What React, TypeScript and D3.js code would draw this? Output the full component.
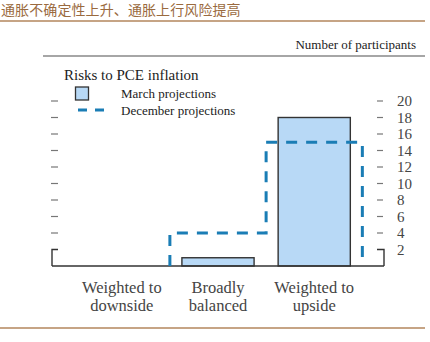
import React from "react";
import * as d3 from "d3";

const categories = ["Weighted to downside", "Broadly balanced", "Weighted to upside"];
const categoryLines = [["Weighted to", "downside"], ["Broadly", "balanced"], ["Weighted to", "upside"]];
const marchValues = [0, 1, 18];
const decemberValues = [0, 4, 15];
const tickValues = [2, 4, 6, 8, 10, 12, 14, 16, 18, 20];
const title = "通胀不确定性上升、通胀上行风险提高";

const W = 430;
const H = 342;
const serif = "'Liberation Serif', 'Times New Roman', serif";

export default function App() {
  const x0 = 52;
  const x1 = 384;
  const y = d3.scaleLinear().domain([0, 20]).range([266, 101]);
  const x = d3
    .scaleBand<string>()
    .domain(categories)
    .range([x0, x1])
    .paddingInner(0.25)
    .paddingOuter(0.35);
  const step = x.step();
  const bw = x.bandwidth();

  const edge = (i: number) => (x(categories[i]) as number) + bw / 2 - step / 2;
  let d = "";
  let started = false;
  decemberValues.forEach((v, i) => {
    const l = edge(i);
    const r = l + step;
    if (v <= 0) return;
    if (!started) {
      d += `M${l},${y(0)}L${l},${y(v)}`;
      started = true;
    } else {
      d += `L${l},${y(v)}`;
    }
    d += `L${r},${y(v)}`;
    if (i === decemberValues.length - 1 || decemberValues[i + 1] <= 0) {
      d += `L${r},${y(0)}`;
    }
  });

  const tickGray = "#777";
  const textGray = "#444";

  return (
    <svg width={W} height={H} style={{ position: "absolute", left: 0, top: 0 }}>
      <rect width={W} height={H} fill="#fff" />
      <text
        x={1}
        y={15}
        fontFamily="'Noto Sans CJK SC', sans-serif"
        fontSize={14}
        letterSpacing={0.1}
        fill="#9a6a3e"
      >
        {title}
      </text>
      <line x1={0} x2={425} y1={21} y2={21} stroke="#b3865c" strokeWidth={1.6} />

      <text x={416} y={49} textAnchor="end" fontFamily={serif} fontSize={13} fill="#222">
        Number of participants
      </text>
      <line x1={43} x2={425} y1={56} y2={56} stroke="#888" strokeWidth={1.4} />

      {/* legend */}
      <text x={64} y={80} fontFamily={serif} fontSize={15} fill="#222">
        Risks to PCE inflation
      </text>
      <rect x={75.5} y={87} width={13} height={13} fill="#b8d9f6" stroke="#333" strokeWidth={1.3} />
      <text x={121} y={97.5} fontFamily={serif} fontSize={13} fill="#222">
        March projections
      </text>
      <line x1={78} x2={106} y1={110} y2={110} stroke="#1a7db5" strokeWidth={3} strokeDasharray="9,8" />
      <text x={121} y={114.5} fontFamily={serif} fontSize={13} fill="#222">
        December projections
      </text>

      {/* ticks */}
      {tickValues.filter((t) => t > 2).map((t) => (
        <g key={t}>
          <line x1={51} x2={58} y1={y(t)} y2={y(t)} stroke={tickGray} strokeWidth={1.2} />
          <line x1={377} x2={383} y1={y(t)} y2={y(t)} stroke={tickGray} strokeWidth={1.2} />
        </g>
      ))}
      {tickValues.map((t) => (
        <text
          key={"l" + t}
          x={397}
          y={y(t)}
          dy="0.35em"
          fontFamily={serif}
          fontSize={15}
          fill={textGray}
        >
          {t}
        </text>
      ))}
      <path d={`M58,${y(2)}L${x0},${y(2)}L${x0},${y(0)}`} fill="none" stroke="#333" strokeWidth={1.4} />
      <path d={`M377,${y(2)}L${x1},${y(2)}L${x1},${y(0)}`} fill="none" stroke="#333" strokeWidth={1.4} />

      {/* bars */}
      {marchValues.map((v, i) =>
        v > 0 ? (
          <rect
            key={categories[i]}
            x={x(categories[i])}
            y={y(v)}
            width={bw}
            height={y(0) - y(v)}
            fill="#b8d9f6"
            stroke="#333"
            strokeWidth={1.4}
          />
        ) : null
      )}
      <line x1={x0} x2={x1} y1={y(0)} y2={y(0)} stroke="#333" strokeWidth={1.4} />

      <path d={d} fill="none" stroke="#1a7db5" strokeWidth={3} strokeDasharray="11,9" />

      {/* category labels */}
      {categoryLines.map((lines, i) => {
        const cx = (x(categories[i]) as number) + bw / 2;
        return (
          <text key={"c" + i} textAnchor="middle" fontFamily={serif} fontSize={16.5} fill={textGray}>
            <tspan x={cx} y={293}>{lines[0]}</tspan>
            <tspan x={cx} y={311}>{lines[1]}</tspan>
          </text>
        );
      })}

      <line x1={0} x2={425} y1={328} y2={328} stroke="#b3865c" strokeWidth={1.6} />
    </svg>
  );
}
